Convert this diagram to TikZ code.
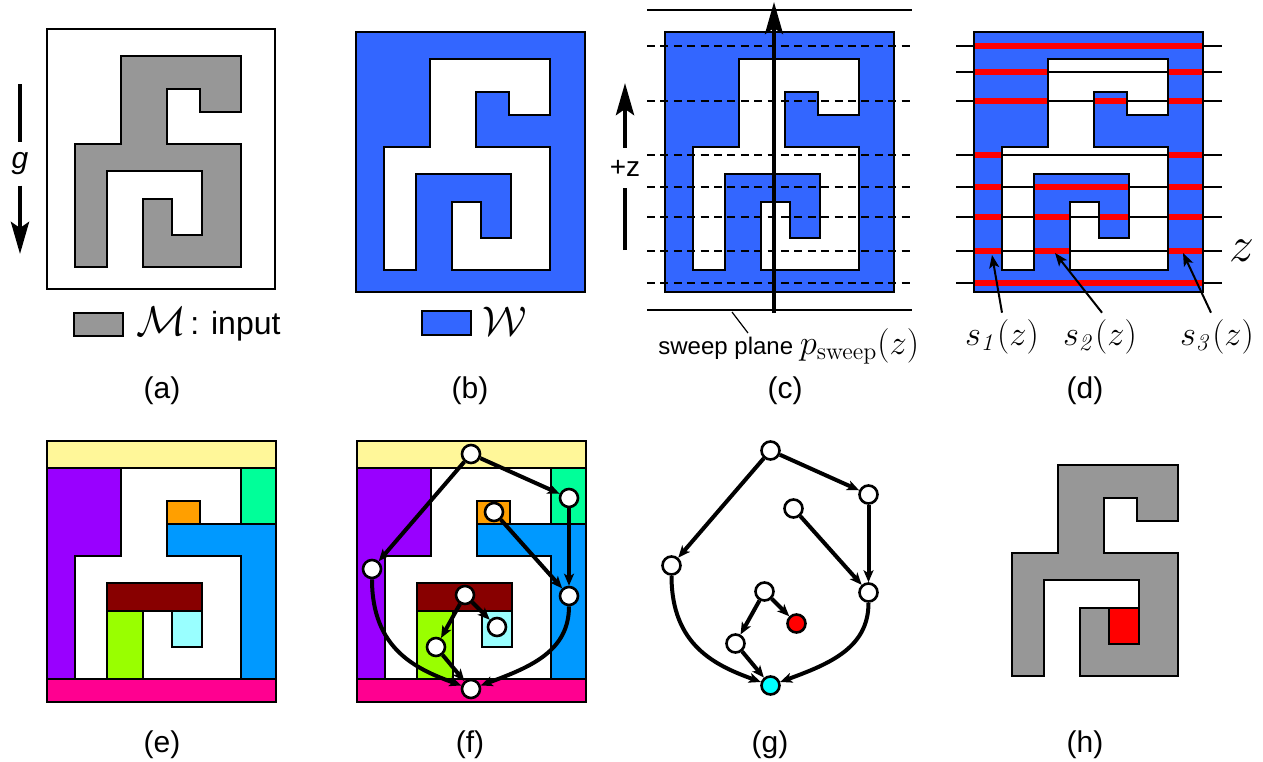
\documentclass[tikz,border=0pt]{standalone}
\usepackage[no-math]{fontspec}
\setmainfont{Liberation Sans}
\usepackage{amsmath}
\usetikzlibrary{arrows.meta,positioning}

\definecolor{mgray}{RGB}{151,151,151}
\definecolor{wblue}{RGB}{51,102,255}
\definecolor{cyellow}{RGB}{255,247,153}
\definecolor{cpurple}{RGB}{153,0,255}
\definecolor{cgreen}{RGB}{0,255,153}
\definecolor{corange}{RGB}{255,159,0}
\definecolor{cblue}{RGB}{0,153,255}
\definecolor{cdarkred}{RGB}{136,0,0}
\definecolor{clime}{RGB}{153,255,0}
\definecolor{ccyan}{RGB}{153,255,255}
\definecolor{cpink}{RGB}{255,0,144}
\definecolor{sinkcyan}{RGB}{0,255,255}
\definecolor{srcred}{RGB}{255,0,0}

\tikzset{
  outline/.style={draw=black, line width=0.9pt},
  maze/.style={insert path={(74,27) -- (194,27) -- (194,83) -- (153,83) -- (153,60) -- (120,60)
    -- (120,115) -- (194,115) -- (194,238) -- (96,238) -- (96,170) -- (125,170) -- (125,206)
    -- (155,206) -- (155,142) -- (60,142) -- (60,238) -- (28,238) -- (28,115) -- (74,115) -- cycle}},
  wbox/.style={insert path={(0,0) rectangle (229,260)}, maze},
  vertex/.style={circle, draw=black, line width=1.3pt, fill=white, minimum size=9pt, inner sep=0pt},
  flow/.style={line width=2pt, -{Stealth[length=6pt,width=5pt,inset=1.5pt]}},
  bigarrow/.style={line width=2.2pt, -{Stealth[length=16pt,width=9pt,inset=3pt]}},
  pointer/.style={line width=1pt, -{Stealth[length=6.5pt,width=5pt,inset=1.5pt]}},
  levelline/.style={line width=0.8pt},
  slab/.style={draw=srcred, line width=3pt},
  panellabel/.style={font=\fontsize{15}{18}\selectfont},
}

\begin{document}
\begin{tikzpicture}[x=0.5pt, y=-0.5pt]
  \useasboundingbox (0,0) rectangle (1263,761);

  % (a) input mesh
  \begin{scope}[shift={(47,29)}]
    \draw[outline] (0,0) rectangle (228,260);
    \draw[outline, fill=mgray, maze];
  \end{scope}
  \draw[outline, fill=mgray] (74,313) rectangle (123,336);
  \node[anchor=base, inner sep=0pt, font=\fontsize{22}{24}\selectfont] (mlbl) at (161,335) {$\mathcal{M}$};
  \node[anchor=base west, inner sep=0pt, font=\fontsize{16}{19}\selectfont] (mtxt) at (190,334) {: input};
  \coordinate (gtop) at (20,84);
  \coordinate (gbot) at (20,254);
  \node[font=\fontsize{15}{18}\selectfont\itshape, inner xsep=2pt, inner ysep=5pt] (glbl) at (20,164) {g};
  \draw[line width=2.2pt] (gtop) -- (glbl);
  \draw[bigarrow] (glbl) -- (gbot);

  % (b) complement
  \begin{scope}[shift={(356,32)}]
    \draw[outline, fill=wblue, even odd rule, wbox];
  \end{scope}
  \draw[outline, fill=wblue] (422,311) rectangle (471,335);
  \node[anchor=base, inner sep=0pt, font=\fontsize{22}{24}\selectfont] (wlbl) at (505,335) {$\mathcal{W}$};

  % (c) sweep
  \begin{scope}[shift={(665,32)}]
    \draw[outline, fill=wblue, even odd rule, wbox];
    \foreach \y in {14,69,123,155,185,219,251}
      \draw[levelline, line width=1pt, dash pattern=on 4pt off 2.7pt] (-18,\y) -- (247,\y);
    \draw[line width=1pt] (-18,-22) -- (247,-22);
    \draw[line width=1pt] (-18,278) -- (247,278);
    \coordinate (sweepfoot) at (109,281);
    \coordinate (sweeptip) at (109,-30);
    \draw[bigarrow, line width=2pt] (sweepfoot) -- (sweeptip);
    \coordinate (leadA) at (67,280);
    \coordinate (leadB) at (83,301);
    \draw[line width=0.6pt] (leadA) -- (leadB);
  \end{scope}
  \node[anchor=base west, inner sep=0pt] (sweeplbl) at (658,354)
    {\fontsize{12}{14}\selectfont sweep plane \fontsize{18}{20}\selectfont$p_{\mathrm{sweep}}(z)$};
  \coordinate (zbot) at (625,250);
  \coordinate (ztop) at (625,83);
  \node[font=\fontsize{14}{17}\selectfont, inner xsep=1pt, inner ysep=6pt] (zlbl) at (625,168) {+z};
  \draw[line width=2.2pt] (zbot) -- (zlbl);
  \draw[bigarrow] (zlbl) -- (ztop);

  % (d) slabs
  \begin{scope}[shift={(974,32)}]
    \fill[wblue, even odd rule, wbox];
    \foreach \y in {14,40,69,123,155,185,219,251}
      \draw[levelline] (-18,\y) -- (248,\y);
    \begin{scope}[even odd rule]
      \clip[wbox];
      \foreach \y in {14,40,69,123,155,185,219,251}
        \draw[slab] (-18,\y) -- (248,\y);
    \end{scope}
    \draw[outline, even odd rule, wbox];
    \coordinate (tip1) at (18,223);
    \coordinate (tip2) at (81,221);
    \coordinate (tip3) at (209,221);
  \end{scope}
  \node[font=\fontsize{17}{20}\selectfont] (s1) at (1002,337) {$s_{\mathit{1}}(z)$};
  \node[font=\fontsize{17}{20}\selectfont] (s2) at (1100,337) {$s_{\mathit{2}}(z)$};
  \node[font=\fontsize{17}{20}\selectfont] (s3) at (1217,337) {$s_{\mathit{3}}(z)$};
  \draw[pointer] (s1.north) -- (tip1);
  \draw[pointer] ([xshift=1pt]s2.north) -- (tip2);
  \draw[pointer] ([xshift=-3pt]s3.north) -- (tip3);
  \node[font=\fontsize{25}{28}\selectfont] (zname) at (1242,251) {$z$};

  % (e) and (f) decomposition
  \foreach \ox in {47,357} {
    \begin{scope}[shift={(\ox,441)}]
      \draw[outline, fill=cyellow] (0,0) rectangle (229,27);
      \draw[outline, fill=cpink] (0,238) rectangle (229,261);
      \draw[outline, fill=cpurple] (0,27) -- (74,27) -- (74,115) -- (28,115) -- (28,238) -- (0,238) -- cycle;
      \draw[outline, fill=cgreen] (194,27) rectangle (229,83);
      \draw[outline, fill=corange] (120,60) rectangle (153,83);
      \draw[outline, fill=cblue] (120,83) -- (229,83) -- (229,238) -- (194,238) -- (194,115) -- (120,115) -- cycle;
      \draw[outline, fill=cdarkred] (60,142) rectangle (155,170);
      \draw[outline, fill=clime] (60,170) rectangle (96,238);
      \draw[outline, fill=ccyan] (125,170) rectangle (155,206);
    \end{scope}
  }

  % (f) graph on the pieces
  \begin{scope}[shift={(357,441)}]
    \node[vertex] (f1) at (114,13) {};
    \node[vertex] (f2) at (212,57) {};
    \node[vertex] (f3) at (137,71) {};
    \node[vertex] (f4) at (15,128) {};
    \node[vertex] (f5) at (212,155) {};
    \node[vertex] (f6) at (108,154) {};
    \node[vertex] (f7) at (140,186) {};
    \node[vertex] (f8) at (79,206) {};
    \node[vertex] (f9) at (114,248) {};
    \foreach \a/\b in {1/4,1/2,2/5,3/5,6/8,6/7,8/9}
      \draw[flow] (f\a) -- (f\b);
    \draw[flow] (f4) .. controls +(0,80) and +(-55,-20) .. (f9);
    \draw[flow] (f5) .. controls +(0,55) and +(60,-22) .. (f9);
  \end{scope}

  % (g) graph alone
  \begin{scope}[shift={(656.5,437.5)}]
    \node[vertex] (g1) at (114,13) {};
    \node[vertex] (g2) at (212,57) {};
    \node[vertex] (g3) at (137,71) {};
    \node[vertex] (g4) at (15,128) {};
    \node[vertex] (g5) at (212,155) {};
    \node[vertex] (g6) at (108,154) {};
    \node[vertex, fill=srcred] (g7) at (140,186) {};
    \node[vertex] (g8) at (79,206) {};
    \node[vertex, fill=sinkcyan] (g9) at (114,248) {};
    \foreach \a/\b in {1/4,1/2,2/5,3/5,6/8,6/7,8/9}
      \draw[flow] (g\a) -- (g\b);
    \draw[flow] (g4) .. controls +(0,80) and +(-55,-20) .. (g9);
    \draw[flow] (g5) .. controls +(0,55) and +(60,-22) .. (g9);
  \end{scope}

  % (h) result
  \begin{scope}[shift={(984,438)}]
    \draw[outline, fill=mgray, maze];
    \draw[outline, fill=srcred] (125,170) rectangle (155,206);
  \end{scope}

  % panel labels
  \node[panellabel] (la) at (162,391) {(a)};
  \node[panellabel] (lb) at (470,391) {(b)};
  \node[panellabel] (lc) at (785,391) {(c)};
  \node[panellabel] (ld) at (1085,391) {(d)};
  \node[panellabel] (le) at (162,745) {(e)};
  \node[panellabel] (lf) at (470,745) {(f)};
  \node[panellabel] (lg) at (770,745) {(g)};
  \node[panellabel] (lh) at (1085,745) {(h)};
\end{tikzpicture}
\end{document}
